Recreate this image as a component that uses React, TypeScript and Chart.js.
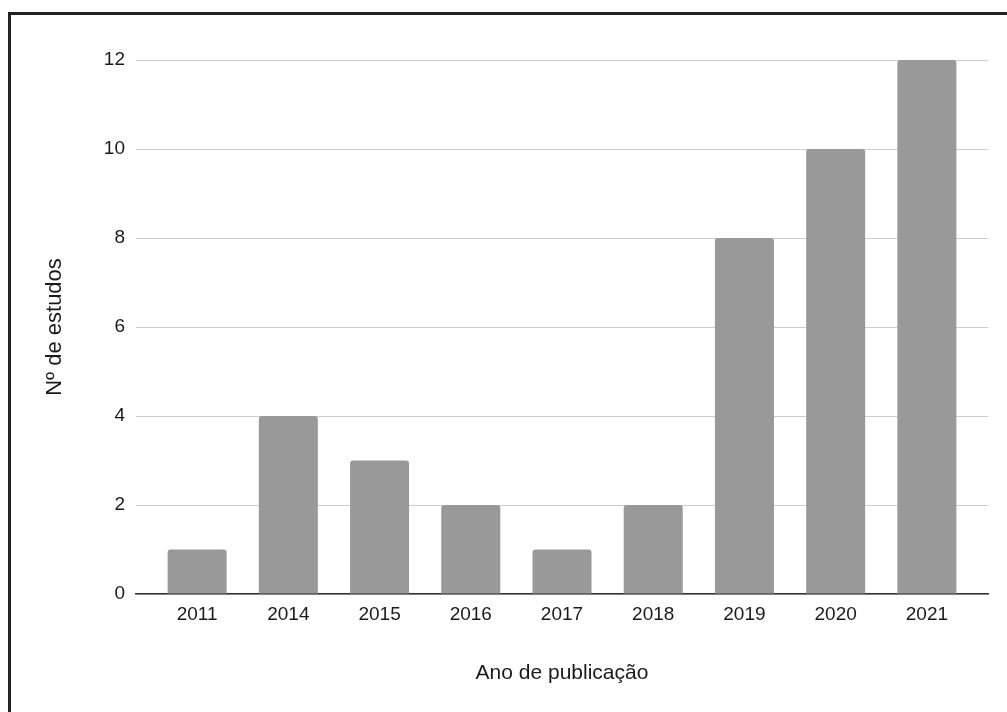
import React, { useEffect, useRef } from "react";
import { Chart, registerables } from "chart.js";

Chart.register(...registerables);

const years = ["2011", "2014", "2015", "2016", "2017", "2018", "2019", "2020", "2021"];
const studies = [1, 4, 3, 2, 1, 2, 8, 10, 12];
const yTicks = [0, 2, 4, 6, 8, 10, 12];
const xTitle = "Ano de publicação";
const yTitle = "Nº de estudos";

const FONT = "'Liberation Sans', Arial, sans-serif";

export default function App() {
  const ref = useRef<HTMLCanvasElement | null>(null);

  useEffect(() => {
    if (!ref.current) return;
    const chart = new Chart(ref.current, {
      type: "bar",
      data: {
        datasets: [
          {
            label: yTitle,
            data: studies.map((v, i) => ({ x: i, y: v })),
            backgroundColor: "#999999",
            borderRadius: 3,
            borderSkipped: "bottom",
            categoryPercentage: 1,
            barPercentage: 0.647,
          },
        ],
      },
      options: {
        animation: false,
        responsive: false,
        maintainAspectRatio: false,
        layout: { padding: { top: 60, right: 19, bottom: 0, left: 0 } },
        plugins: { legend: { display: false }, tooltip: { enabled: false } },
        scales: {
          x: {
            type: "linear",
            min: -0.67,
            max: 8.67,
            offset: false,
            afterBuildTicks: (scale: any) => {
              scale.ticks = years.map((_, i) => ({ value: i }));
            },
            afterFit: (scale: any) => {
              scale.height = 118;
            },
            grid: { display: false, drawTicks: false },
            border: { display: true, color: "#333333", width: 1.5 },
            ticks: {
              autoSkip: false,
              maxRotation: 0,
              padding: 9,
              color: "#1a1a1a",
              font: { family: FONT, size: 19 },
              callback: (v: any) => years[Math.round(Number(v))] ?? "",
            },
            title: {
              display: true,
              text: xTitle,
              color: "#1a1a1a",
              font: { family: FONT, size: 21 },
              padding: { top: 3, bottom: 26 },
            },
          },
          y: {
            min: 0,
            max: 12,
            afterBuildTicks: (scale: any) => {
              scale.ticks = yTicks.map((v) => ({ value: v }));
            },
            afterFit: (scale: any) => {
              scale.width = 136;
            },
            grid: { color: "#cccccc", lineWidth: 1, drawTicks: false },
            border: { display: false },
            ticks: {
              padding: 11,
              color: "#1a1a1a",
              font: { family: FONT, size: 19 },
            },
            title: {
              display: true,
              text: yTitle,
              color: "#1a1a1a",
              font: { family: FONT, size: 22 },
              padding: { top: 42, bottom: 0 },
            },
          },
        },
      },
    });
    return () => chart.destroy();
  }, []);

  return (
    <div style={{ position: "absolute", left: 0, top: 0, width: 1007, height: 712, background: "#ffffff" }}>
      <canvas ref={ref} width={1007} height={712} style={{ position: "absolute", left: 0, top: 0 }} />
      <div
        style={{
          position: "absolute",
          left: 8,
          top: 12,
          right: 0,
          bottom: 0,
          borderTop: "3px solid #222222",
          borderLeft: "3px solid #222222",
          pointerEvents: "none",
        }}
      />
    </div>
  );
}
